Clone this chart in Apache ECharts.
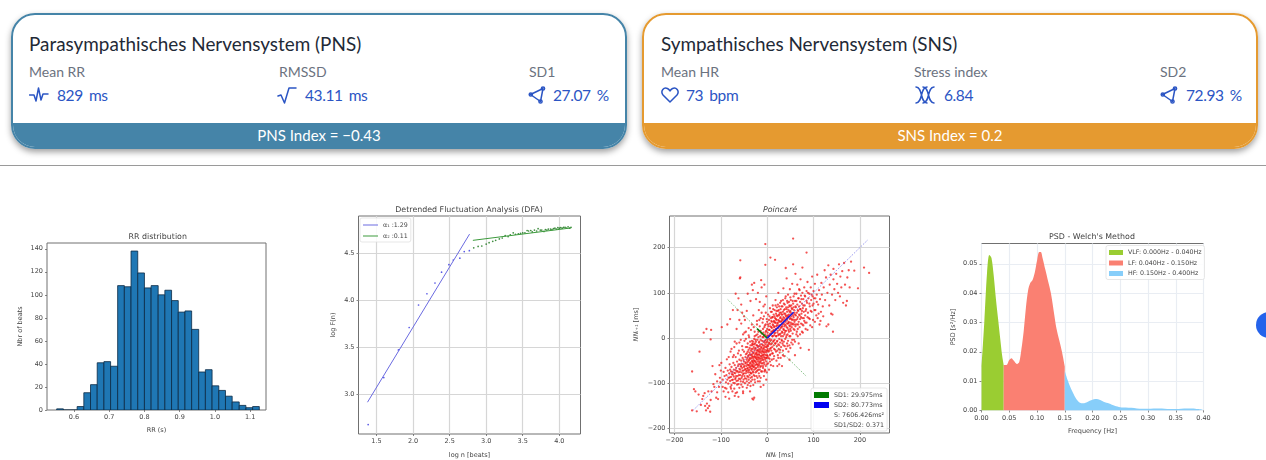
<!DOCTYPE html>
<html>
<head>
<meta charset="utf-8">
<title>HRV</title>
<script src="https://cdn.jsdelivr.net/npm/echarts@6/dist/echarts.min.js"></script>
<style>
  html, body { margin: 0; padding: 0; background: #fff; width: 1266px; height: 460px; overflow: hidden; font-family: Lato, "Noto Sans", sans-serif; }
  .card { position: absolute; top: 13px; width: 612px; height: 132px; border: 2px solid; border-radius: 24px; overflow: hidden; background: #fff; }
  .shadow { position: absolute; top: 13px; width: 616px; height: 136px; border-radius: 24px; box-shadow: 0 3px 6px rgba(0,0,0,.38); }
  .band { position: absolute; left: 0; right: 0; bottom: 0; height: 24px; line-height: 24px; text-align: center; color: #fff; font-size: 15px; }
  .txt { position: absolute; white-space: pre; }
  .head { top: 31px; font-size: 18.9px; line-height: 26px; color: #1f2a37; }
  .lab { top: 64px; font-size: 14px; line-height: 16px; color: #6b7280; }
  .val { top: 85px; font-size: 15.5px; line-height: 20px; color: #2b55c4; letter-spacing: -.4px; word-spacing: -.5px; }
  svg.ic { position: absolute; top: 85px; width: 20px; height: 20px; fill: none; stroke: #2b55c4; stroke-width: 1.5; stroke-linecap: round; stroke-linejoin: round; }
  #rule { position: absolute; left: 0; top: 165px; width: 1266px; height: 1px; background: #9a9a9a; }
  #dot { position: absolute; left: 1256px; top: 312px; width: 26px; height: 26px; border-radius: 50%; background: #2563eb; }
  #main { position: absolute; left: 0; top: 0; width: 1266px; height: 460px; filter: blur(0.35px); }
</style>
</head>
<body>
<div class="shadow" style="left:11px"></div>
<div class="shadow" style="left:642px"></div>
<div class="card" style="left:11px;border-color:#4584a8"><div class="band" style="background:#4584a8">PNS Index = −0.43</div></div>
<div class="card" style="left:642px;border-color:#e59a30"><div class="band" style="background:#e59a30">SNS Index = 0.2</div></div>

<div class="txt head" style="left:29px">Parasympathisches Nervensystem (PNS)</div>
<div class="txt lab" style="left:29px">Mean RR</div>
<div class="txt lab" style="left:279px">RMSSD</div>
<div class="txt lab" style="left:529px">SD1</div>
<svg class="ic" style="left:29px" viewBox="0 0 20 20"><path d="M0.5 10H5L7 16L9.5 3L12 15L14 9H19"/></svg>
<svg class="ic" style="left:277px" viewBox="0 0 20 20"><path d="M1 11L4 10L7.5 18L12 3H19"/></svg>
<svg class="ic" style="left:528px" viewBox="0 0 20 20"><path d="M2.5 9.5L15 3.5L12.5 16.5Z"/><circle cx="2.8" cy="9.5" r="1.6"/><circle cx="15" cy="3.5" r="1.6"/><circle cx="12.5" cy="16.5" r="1.6"/></svg>
<div class="txt val" style="left:57px">829  ms</div>
<div class="txt val" style="left:305px">43.11  ms</div>
<div class="txt val" style="left:553px">27.07  %</div>

<div class="txt head" style="left:661px">Sympathisches Nervensystem (SNS)</div>
<div class="txt lab" style="left:661px">Mean HR</div>
<div class="txt lab" style="left:914px">Stress index</div>
<div class="txt lab" style="left:1160px">SD2</div>
<svg class="ic" style="left:660px" viewBox="0 0 20 20"><path d="M10 17L3 10C0 6 4 1.500 7.500 3.500C8.800 4.200 9.500 5 10 6C10.500 5 11.200 4.200 12.500 3.500C16 1.500 20 6 17 10Z"/></svg>
<svg class="ic" style="left:915px" viewBox="0 0 20 20"><path d="M1 2C8 2 5 18 12 18M12 2C5 2 8 18 1 18M8 2C15 2 12 18 19 18M19 2C12 2 15 18 8 18"/></svg>
<svg class="ic" style="left:1160px" viewBox="0 0 20 20"><path d="M2.500 9.500L15 3.500L12.500 16.500Z"/><circle cx="2.800" cy="9.500" r="1.600"/><circle cx="15" cy="3.500" r="1.600"/><circle cx="12.500" cy="16.500" r="1.600"/></svg>
<div class="txt val" style="left:686px">73  bpm</div>
<div class="txt val" style="left:944px">6.84</div>
<div class="txt val" style="left:1186px">72.93  %</div>

<div id="rule"></div>
<div id="dot"></div>
<div id="main"></div>

<script>
// RR distribution
const rrBinEdges = [0.551,0.570,0.589,0.609,0.628,0.647,0.666,0.685,0.704,0.724,0.743,0.762,0.781,0.800,0.819,0.839,0.858,0.877,0.896,0.915,0.934,0.954,0.973,0.992,1.011,1.030,1.049,1.069,1.088,1.107,1.126]
const rrCounts = [1,0,0,3,15,22,41,42,38,108,107,138,119,106,108,100,104,95,85,86,70,33,35,21,17,12,7,4,2,3]
const rrXTicks = [0.6,0.7,0.8,0.9,1.0,1.1]
const rrYTicks = [0,20,40,60,80,100,120,140]

// DFA
const dfaShortPoints = [[1.386,2.674],[1.60,3.175],[1.80,3.47],[1.947,3.71],[2.075,3.95],[2.19,4.07],[2.30,4.185],[2.39,4.30],[2.49,4.38],[2.55,4.43],[2.64,4.45],[2.70,4.52],[2.77,4.53]]
const dfaLongPoints = [[2.83,4.56],[2.89,4.575],[2.94,4.58],[3.0,4.60],[3.04,4.615],[3.09,4.63],[3.13,4.64],[3.18,4.655],[3.22,4.665],[3.26,4.69],[3.30,4.68],[3.33,4.70],[3.37,4.72],[3.40,4.705],[3.44,4.71],[3.47,4.715],[3.50,4.72],[3.53,4.72],[3.56,4.745],[3.58,4.74],[3.61,4.745],[3.63,4.73],[3.66,4.75],[3.69,4.74],[3.71,4.765],[3.74,4.75],[3.76,4.75],[3.79,4.735],[3.81,4.755],[3.83,4.75],[3.85,4.76],[3.88,4.76],[3.90,4.755],[3.92,4.765],[3.94,4.77],[3.96,4.76],[3.98,4.775],[4.0,4.77],[4.02,4.775],[4.04,4.77],[4.06,4.78],[4.08,4.78],[4.10,4.77],[4.12,4.785],[4.14,4.77],[4.16,4.78]]
const dfaShortFit = [[1.377,2.912],[2.773,4.707]]
const dfaLongFit = [[2.818,4.64],[4.164,4.773]]
const dfaXTicks = [1.5,2.0,2.5,3.0,3.5,4.0]
const dfaYTicks = [3.0,3.5,4.0,4.5]

// Poincare
const poincarePoints = [
[-162,-74],[-162,-160],[-158,-113],[-155,-118],[-152,-162],[-148,-125],[-146,-30],[-143,-148],[-140,-135],[-138,-128],[-135,-122],[-134,-150],[-132,-160],[-130,-145],[-128,-155],[-127,-118],[-125,-150],[-123,-163],[-122,-137],[-120,-118],[-118,-62],[-116,-102],[-114,-108],[-112,-80],[-110,-132],[-108,-120],[-106,-135],[-104,-108],[-103,-60],[-101,-98],[-100,-72],[-131,20],[-137,12],[-121,18],[-122,-3],[-98,24],[-99,-55],[-96,-92],[-94,-75],
[-92,-84],[-91,-110],[-90,-66],[-89,-98],[-88,-82],[-87,-47],[-86,-92],[-85,-72],[-84,-120],[-83,-88],[-82,-78],[-81,-58],[-80,-95],[-80,-70],[-79,-30],[-78,-86],[-77,-104],[-77,-64],[-76,-80],[-75,-75],[-75,-118],[-74,-92],[-73,-55],[-72,-70],[-72,-85],[-71,-20],[-70,-100],[-70,-60],[-69,-78],[-68,-88],[-68,-42],[-67,-66],[-66,-95],[-66,-74],[-65,-52],[-65,-120],[-64,-84],[-63,-62],[-63,-34],[-62,-76],[-62,-102],[-61,-90],[-60,-68],[-60,-48],[-60,-10],[-59,132],[-58,172],[-58,134],[-62,88],[-68,98],[-74,62],[-80,42],[-86,30],[-64,62],[-56,74],
[-59,-58],[-58,-82],[-58,-70],[-57,-96],[-57,-38],[-56,-62],[-56,-50],[-55,-88],[-55,-76],[-54,-18],[-54,-66],[-53,-108],[-53,-44],[-52,-80],[-52,-58],[-51,-92],[-51,-72],[-50,-30],[-50,-52],[-50,-64],[-49,-84],[-49,-6],[-48,-70],[-48,-100],[-47,-42],[-47,-56],[-46,-78],[-46,-20],[-45,-62],[-45,-90],[-44,-48],[-44,-72],[-44,-34],[-43,-84],[-43,-58],[-42,-12],[-42,-66],[-42,-104],[-41,-40],[-41,-76],[-40,-50],[-40,-92],[-40,-26],[-39,-60],[-39,-70],[-39,2],[-38,-44],[-38,-82],[-38,-32],[-37,-56],[-37,-118],[-36,-66],[-36,-16],[-36,-46],[-35,-78],[-35,-38],[-35,-96],[-34,-58],[-34,-24],[-34,-70],[-33,-6],[-33,-50],[-33,-86],[-32,-40],[-32,-62],[-32,-30],[-31,-74],[-31,-14],[-31,-54],[-30,-104],[-30,-46],[-30,-34],[-30,-64],[-29,-20],[-29,-82],[-29,-56],[-28,-2],[-28,-42],[-28,-70],[-27,-28],[-27,-92],[-27,-50],[-26,-60],[-26,-36],[-26,-12],[-25,-76],[-25,-44],[-25,-22],[-24,-54],[-24,-66],[-24,6],[-23,-32],[-23,-84],[-23,-46],[-22,-16],[-22,-58],[-22,-38],[-21,-72],[-21,-26],[-21,-4],[-20,-52],[-20,-96],[-20,-42],[-20,-64],[-19,-30],[-19,14],[-19,-18],[-18,-78],[-18,-48],[-18,-36],[-17,-60],[-17,-8],[-17,-24],[-16,-44],[-16,-70],[-16,-32],[-15,-54],[-15,4],[-15,-14],[-14,-88],[-14,-40],[-14,-26],[-13,-62],[-13,-50],[-12,-20],[-12,-34],[-12,10],[-11,-74],[-11,-44],[-11,-6],[-10,-56],[-10,-28],[-10,-38],[-9,-66],[-9,-16],[-9,20],[-8,-48],[-8,2],[-8,-30],[-7,-84],[-7,-42],[-7,-22],[-6,-58],[-6,-10],[-6,-36],[-5,-70],[-5,28],[-5,-26],[-4,-48],[-4,-14],[-4,8],[-3,-62],[-3,-38],[-3,-4],[-2,-32],[-2,-52],[-2,16],[-1,-20],[-1,-76],[-1,-44],[0,-28],[0,-8],[0,36],
[-48,40],[-44,60],[-40,22],[-36,82],[-33,30],[-30,50],[-27,14],[-24,86],[-22,38],[-18,62],[-16,26],[-14,44],[-12,112],[-10,34],[-8,70],[-7,48],[-6,118],[-4,162],[-4,208],[-3,56],[-2,92],[-1,42],[-28,122],[-20,100],[-33,118],[-42,98],[-50,48],[-56,32],[-46,14],[-52,8],[-31,106],[-16,80],[-13,128],
[1,-40],[1,12],[2,-56],[2,-18],[2,52],[3,-30],[3,4],[3,26],[4,-70],[4,-10],[4,40],[5,-46],[5,18],[5,-2],[6,-24],[6,66],[6,32],[7,-36],[7,178],[7,10],[8,-60],[8,44],[8,-14],[9,24],[9,-4],[9,-28],[10,58],[10,36],[10,-48],[11,14],[11,-20],[11,4],[12,72],[12,46],[12,-34],[13,28],[13,-8],[13,-62],[14,52],[14,18],[14,-16],[15,38],[15,6],[15,-40],[16,62],[16,26],[16,-4],[17,173],[17,44],[17,12],[17,-26],[18,84],[18,34],[18,-12],[19,54],[19,20],[19,-30],[20,40],[20,4],[20,-50],[21,68],[21,28],[21,-18],[22,48],[22,12],[22,-6],[23,60],[23,34],[23,-38],[24,22],[24,-14],[24,100],[25,50],[25,8],[25,-24],[26,38],[26,70],[26,-2],[27,18],[27,-32],[27,56],[28,44],[28,28],[28,-10],[29,64],[29,10],[29,-44],[30,36],[30,-20],[30,82],[31,52],[31,24],[31,-4],[32,42],[32,14],[32,-62],[33,70],[33,30],[33,-12],[34,58],[34,4],[34,-28],[35,46],[35,20],[35,110],[36,76],[36,36],[36,-8],[37,54],[37,26],[37,-40],[38,64],[38,12],[38,-18],[39,40],[39,88],[39,-2],[40,155],[40,50],[40,28],[41,68],[41,16],[41,-24],[42,44],[42,6],[42,132],[43,58],[43,32],[43,-12],[44,78],[44,22],[45,48],[45,-6],[45,96],[46,36],[46,62],[46,-30],[47,14],[47,52],[48,72],[48,28],[48,-16],[49,42],[49,108],[50,60],[50,4],[50,20],[51,34],[51,84],[52,48],[52,-10],[53,66],[53,24],[54,40],[54,120],[55,54],[55,10],[56,220],[56,163],[56,76],[56,30],[57,46],[57,92],[58,62],[58,-4],[59,18],[59,36],[60,82],[60,52],[61,142],[61,26],[62,68],[62,40],[63,98],[63,8],[64,56],[64,30],[65,74],[65,118],[66,46],[66,20],[67,88],[67,60],[68,36],[68,-12],[69,108],[69,70],[70,50],[70,24],[71,80],[71,42],[72,64],[72,130],[73,94],[73,32],[74,54],[75,76],[75,14],[76,156],[76,100],[76,44],[77,66],[78,86],[78,28],[79,58],[80,112],[80,38],[81,72],[82,92],[82,50],[83,20],[84,64],[85,189],[85,104],[85,34],[86,78],[87,124],[88,56],[89,88],[90,44],[91,98],[92,70],[93,28],[94,112],[95,84],[96,58],[97,136],[98,92],[99,40],[100,76],[100,104],[102,62],[103,120],[104,88],[106,50],[107,96],[108,140],[110,74],[112,106],[113,30],[114,86],[116,58],[117,122],[118,96],[120,70],[122,112],[124,150],[125,84],[127,134],[128,26],[130,100],[132,161],[132,30],[134,72],[135,118],[137,140],[138,54],[140,96],[141,52],[143,153],[143,130],[145,108],[147,84],[149,142],[151,120],[153,100],[155,163],[157,92],[158,136],[160,112],[162,148],[164,78],[166,166],[168,118],[170,72],[172,82],[173,134],[176,150],[181,169],[178,112],[188,149],[209,156],[220,144],[196,110],[142,14],[90,-26],[72,-22],[60,-38],[48,-48],[26,-58],[22,-62],[-8,-104],[-28,-132],[-32,-134],[-30,-136],[-14,-108],[-2,-92],[-62,-130],[-68,-122],[-52,-118],[-82,-134],[-90,-130],[-94,-118],[-78,-112],
[-84,-101],[-81,-87],[-79,-108],[-78,-74],[-76,-93],[-74,-81],[-73,-99],[-71,-77],[-71,-112],[-69,-91],[-68,-71],[-67,-84],[-65,-103],[-64,-73],[-63,-94],[-62,-58],[-61,-82],[-60,-110],[-59,-75],[-58,-91],[-57,-63],[-56,-103],[-55,-57],[-54,-84],[-53,-72],[-52,-97],[-51,-48],[-50,-78],[-49,-61],[-48,-89],[-47,-68],[-46,-36],[-46,-54],[-45,-74],[-44,-96],[-43,-44],[-43,-68],[-42,-30],[-42,-53],[-41,-86],[-41,-60],[-40,-38],[-40,-72],[-39,-48],[-39,-99],[-38,-22],[-38,-64],[-37,-76],[-37,-36],[-36,-54],[-36,-88],[-35,-28],[-35,-62],[-34,-44],[-34,-78],[-33,-16],[-33,-68],[-33,-36],[-32,-52],[-32,-92],[-31,-24],[-31,-60],[-31,-42],[-30,-8],[-30,-76],[-29,-50],[-29,-32],[-28,-64],[-28,-14],[-27,-84],[-27,-40],[-26,-24],[-26,-52],[-25,-68],[-25,-4],[-24,-34],[-24,-42],[-23,-58],[-23,-74],[-23,-16],[-22,-28],[-22,-48],[-21,-88],[-21,-36],[-21,8],[-20,-20],[-20,-60],[-19,-44],[-19,-70],[-18,-10],[-18,-28],[-18,-56],[-17,-38],[-17,-84],[-16,-18],[-16,-52],[-15,-30],[-15,-64],[-14,-4],[-14,-46],[-13,-22],[-13,-74],[-12,-40],[-12,-56],[-11,-14],[-11,-30],[-10,2],[-10,-48],[-9,-24],[-9,-62],[-8,-38],[-8,12],[-8,-8],[-7,-54],[-7,-32],[-6,-18],[-6,24],[-5,-44],[-5,-6],[-4,-30],[-4,-72],[-3,-20],[-3,14],[-2,-44],[-2,-10],[-1,-58],[-1,-28],[-1,4],[0,-38],[0,-16],[0,20],
[1,-24],[1,-4],[2,30],[2,6],[3,-44],[3,-14],[4,18],[4,-28],[5,48],[5,-12],[6,8],[6,-38],[7,26],[7,-6],[8,58],[8,-22],[9,38],[9,14],[10,-12],[10,22],[11,46],[11,-34],[12,4],[12,30],[13,64],[13,16],[14,-6],[14,36],[15,24],[15,-24],[16,48],[16,10],[17,-12],[17,34],[18,72],[18,18],[19,4],[19,42],[20,26],[20,60],[21,-8],[21,50],[22,32],[22,-28],[23,16],[23,74],[24,40],[24,6],[25,62],[25,28],[26,-16],[26,52],[27,36],[27,8],[28,78],[28,-26],[29,22],[29,46],[30,56],[30,4],[31,38],[31,70],[32,26],[32,-6],[33,52],[33,12],[34,40],[34,84],[35,32],[35,-16],[36,62],[36,18],[37,44],[37,8],[38,74],[38,30],[39,54],[39,16],[40,36],[40,92],[41,48],[41,2],[42,64],[42,24],[43,40],[43,82],[44,50],[44,8],[45,32],[45,68],[46,18],[46,46],[47,80],[47,34],[48,58],[48,4],[49,26],[49,70],[50,44],[50,90],[51,56],[51,16],[52,30],[52,72],[53,42],[54,64],[54,-4],[55,82],[55,32],[56,50],[57,20],[57,68],[58,40],[59,98],[59,56],[60,30],[61,70],[62,50],[63,82],[64,14],[65,42],[66,62],[67,30],[68,88],[69,52],[70,106],[71,64],[73,46],[74,86],[75,60],[76,30],[78,72],[79,44],[81,94],[83,60],[85,82],[87,46],[88,100],[91,76],[94,60],[96,96],[98,72],[101,88],[104,62],[107,80],[111,54],
[-83,-42],[-77,-24],[-72,-38],[-66,-12],[-61,-28],[-57,-4],[-53,-26],[-49,12],[-46,-2],[-43,-20],[-40,6],[-37,-8],[-35,18],[-32,-12],[-29,24],[-27,4],[-24,-8],[-22,30],[-19,2],[-17,40],[-14,16],[-12,56],[-9,42],[-7,6],[-5,74],[-3,30],[44,-18],[50,-22],[55,-14],[60,-8],[66,4],[71,8],[77,12],[82,34],[87,18],[92,42],[97,24],[103,36],[109,44],[115,38],[121,48],[-52,-122],[-44,-110],[-36,-106],[-26,-98],[-16,-96],[-6,-74],[6,-52],[14,-46],[24,-44],[34,-38],[-70,-128],[-88,-112],[-96,-108],[-102,-88],[-108,-96],[-74,-42],[-70,-8],[-66,20],[-60,40],[-54,56]
]
const poincareIdentity = [[-160,-160],[218,218]]
const poincareCross = [[-85,85],[85,-85]]
const sd1Segment = [[0,0],[-22,21]]
const sd2Segment = [[0,0],[57,57]]
const poincareXTicks = [-200,-100,0,100,200]
const poincareYTicks = [-200,-100,0,100,200]

// PSD
const vlfCurve = [[0,0.015],[0.005,0.030],[0.010,0.047],[0.014,0.053],[0.018,0.052],[0.022,0.046],[0.026,0.038],[0.030,0.031],[0.034,0.024],[0.037,0.019],[0.040,0.0155]]
const lfCurve = [[0.040,0.0155],[0.045,0.0155],[0.050,0.0172],[0.054,0.0178],[0.058,0.0170],[0.064,0.0158],[0.068,0.0165],[0.072,0.021],[0.076,0.027],[0.080,0.035],[0.084,0.041],[0.088,0.0435],[0.092,0.0445],[0.096,0.047],[0.100,0.051],[0.104,0.054],[0.107,0.054],[0.110,0.052],[0.115,0.048],[0.120,0.044],[0.125,0.040],[0.130,0.034],[0.135,0.028],[0.140,0.024],[0.145,0.020],[0.150,0.015]]
const hfCurve = [[0.150,0.0135],[0.155,0.0105],[0.160,0.008],[0.165,0.006],[0.170,0.0042],[0.175,0.003],[0.180,0.0025],[0.185,0.0025],[0.190,0.0028],[0.195,0.0033],[0.200,0.0037],[0.205,0.0039],[0.210,0.0038],[0.215,0.0035],[0.220,0.003],[0.230,0.0024],[0.240,0.0016],[0.250,0.0011],[0.260,0.001],[0.270,0.0009],[0.280,0.0007],[0.290,0.0006],[0.300,0.0006],[0.310,0.0007],[0.320,0.0007],[0.330,0.0006],[0.340,0.0005],[0.350,0.0005],[0.360,0.0006],[0.370,0.0007],[0.380,0.0007],[0.390,0.0005],[0.400,0.0003]]
const psdXTicks = [0,0.05,0.10,0.15,0.20,0.25,0.30,0.35,0.40]
const psdYTicks = [0,0.01,0.02,0.03,0.04,0.05]

const chart = echarts.init(document.getElementById('main'), null, { renderer: 'canvas' })
const font = 'DejaVu Sans'
const tickCol = '#555'

function plotTitle(text, x, y, italic) {
  return { text, left: x, top: y, textAlign: 'center', textVerticalAlign: 'middle', padding: 0,
    textStyle: { fontFamily: font, fontSize: 7.9, fontWeight: 'normal', fontStyle: italic ? 'italic' : 'normal', color: '#444' } }
}

function makeAxis(index, type, min, max, ticks, name, gap, grid, fmt, rich) {
  return {
    gridIndex: index, type: 'value', min, max, name, nameLocation: 'middle', nameGap: gap,
    nameTextStyle: { fontFamily: font, fontSize: 6.5, color: '#444', rich: rich || {} },
    axisLine: { show: false, onZero: false },
    axisTick: { show: true, length: 2, customValues: ticks, lineStyle: { color: tickCol, width: 0.7 } },
    axisLabel: { show: true, customValues: ticks, formatter: fmt, margin: 4, fontFamily: font, fontSize: 6.5, color: '#444', hideOverlap: false, showMinLabel: true, showMaxLabel: true },
    splitLine: { show: !!grid, lineStyle: { color: grid || '#ccc', width: 1.2 } }
  }
}

const minus = v => String(v).replace('-', '−')
const italicMs = { i: { fontFamily: font, fontSize: 6.5, fontStyle: 'italic', color: '#444' }, n: { fontFamily: font, fontSize: 6.5, color: '#444' } }
const frame = { show: true, borderColor: '#707070', borderWidth: 1, backgroundColor: 'transparent' }
const legendBase = { orient: 'vertical', selectedMode: false, icon: 'rect', padding: [4, 3, 3, 3], backgroundColor: 'rgba(255,255,255,.85)', borderColor: '#ddd', borderWidth: 0.7, borderRadius: 2, textStyle: { fontFamily: font, fontSize: 6.3, color: '#444' } }

const option = {
  animation: false,
  title: [
    plotTitle('RR distribution', 157.7, 237.3),
    plotTitle('Detrended Fluctuation Analysis (DFA)', 469, 209.7),
    plotTitle('Poincaré', 780, 209.7, true),
    plotTitle("PSD - Welch's Method", 1092, 237.3)
  ],
  grid: [
    { left: 47, top: 243, width: 219, height: 167, ...frame },
    { left: 358.5, top: 216, width: 222, height: 221, ...frame },
    { left: 669.5, top: 216, width: 220, height: 221, ...frame },
    { left: 981.5, top: 243.5, width: 222, height: 167, ...frame }
  ],
  xAxis: [
    makeAxis(0, 'x', 0.5235, 1.145, rrXTicks, 'RR (s)', 17, null, v => v.toFixed(1)),
    makeAxis(1, 'x', 1.254, 4.29, dfaXTicks, 'log n [beats]', 18, '#d6d6d6', v => v.toFixed(1)),
    makeAxis(2, 'x', -210.8, 264, poincareXTicks, '{i|NNᵢ}{n| [ms]}', 19, '#d6d6d6', minus, italicMs),
    makeAxis(3, 'x', 0, 0.4, psdXTicks, 'Frequency [Hz]', 17, '#e9edf3', v => v.toFixed(2))
  ],
  yAxis: [
    makeAxis(0, 'y', 0, 145, rrYTicks, 'Nbr of beats', 23, null, v => v),
    makeAxis(1, 'y', 2.573, 4.9, dfaYTicks, 'log F(n)', 22, '#d6d6d6', v => v.toFixed(1)),
    makeAxis(2, 'y', -210, 270, poincareYTicks, '{i|NNᵢ₊₁}{n| [ms]}', 30, '#d6d6d6', minus, italicMs),
    makeAxis(3, 'y', 0, 0.0569, psdYTicks, 'PSD [s²/Hz]', 25, '#e9edf3', v => v.toFixed(2))
  ],
  legend: [
    { ...legendBase, data: ['α₁ :1.29', 'α₂ :0.11'], left: 360, top: 218, itemWidth: 15, itemHeight: 1, itemGap: 5 },
    { ...legendBase, data: ['SD1: 29.975ms', 'SD2: 80.773ms', 'S: 7606.426ms²', 'SD1/SD2: 0.371'], left: 811, top: 388, itemWidth: 15, itemHeight: 6, itemGap: 4 },
    { ...legendBase, data: ['VLF: 0.000Hz - 0.040Hz', 'LF: 0.040Hz - 0.150Hz', 'HF: 0.150Hz - 0.400Hz'], left: 1106, top: 245.5, itemWidth: 14, itemHeight: 5, itemGap: 4.5 }
  ],
  series: [
    {
      type: 'custom', xAxisIndex: 0, yAxisIndex: 0, clip: true,
      data: rrCounts.map((c, i) => [rrBinEdges[i], rrBinEdges[i + 1], c]),
      encode: { x: [0, 1], y: 2 },
      renderItem: (params, api) => {
        const a = api.coord([api.value(0), api.value(2)])
        const b = api.coord([api.value(1), 0])
        return { type: 'rect', shape: { x: a[0], y: a[1], width: b[0] - a[0], height: b[1] - a[1] },
          style: { fill: '#1f77b4', stroke: '#0b2a44', lineWidth: 0.8 } }
      }
    },
    { type: 'scatter', xAxisIndex: 1, yAxisIndex: 1, data: dfaShortPoints, symbolSize: 1.7, itemStyle: { color: '#3030e0' }, silent: true },
    { type: 'scatter', xAxisIndex: 1, yAxisIndex: 1, data: dfaLongPoints, symbolSize: 1.7, itemStyle: { color: '#107010' }, silent: true },
    { name: 'α₁ :1.29', type: 'line', xAxisIndex: 1, yAxisIndex: 1, data: dfaShortFit, showSymbol: false, symbol: 'none', itemStyle: { color: '#6a6ae0' }, lineStyle: { color: '#6a6ae0', width: 1 } },
    { name: 'α₂ :0.11', type: 'line', xAxisIndex: 1, yAxisIndex: 1, data: dfaLongFit, showSymbol: false, symbol: 'none', itemStyle: { color: '#3c9a3c' }, lineStyle: { color: '#3c9a3c', width: 1 } },

    { type: 'scatter', xAxisIndex: 2, yAxisIndex: 2, data: poincarePoints, symbolSize: 2.3, itemStyle: { color: '#f01010', opacity: 0.72 }, silent: true },
    { type: 'line', xAxisIndex: 2, yAxisIndex: 2, data: poincareIdentity, symbol: 'none', lineStyle: { color: '#5a5ae6', width: 0.8, type: [1, 1.5] } },
    { type: 'line', xAxisIndex: 2, yAxisIndex: 2, data: poincareCross, symbol: 'none', lineStyle: { color: '#3c9a3c', width: 0.8, type: [1, 1.5] } },
    { name: 'SD1: 29.975ms', type: 'line', xAxisIndex: 2, yAxisIndex: 2, data: sd1Segment, symbol: 'none', z: 5, itemStyle: { color: '#007a00' }, lineStyle: { color: '#0a7a0a', width: 1.6 } },
    { name: 'SD2: 80.773ms', type: 'line', xAxisIndex: 2, yAxisIndex: 2, data: sd2Segment, symbol: 'none', z: 5, itemStyle: { color: '#0000f0' }, lineStyle: { color: '#1a1ae0', width: 1.6 } },
    { name: 'S: 7606.426ms²', type: 'line', xAxisIndex: 2, yAxisIndex: 2, data: [], symbol: 'none', itemStyle: { color: 'rgba(0,0,0,0)' }, lineStyle: { width: 0 } },
    { name: 'SD1/SD2: 0.371', type: 'line', xAxisIndex: 2, yAxisIndex: 2, data: [], symbol: 'none', itemStyle: { color: 'rgba(0,0,0,0)' }, lineStyle: { width: 0 } },

    { name: 'VLF: 0.000Hz - 0.040Hz', type: 'line', xAxisIndex: 3, yAxisIndex: 3, data: vlfCurve, smooth: 0.3, symbol: 'none', itemStyle: { color: '#9acd32' }, lineStyle: { width: 0 }, areaStyle: { color: '#9acd32', opacity: 1 } },
    { name: 'LF: 0.040Hz - 0.150Hz', type: 'line', xAxisIndex: 3, yAxisIndex: 3, data: lfCurve, smooth: 0.3, symbol: 'none', itemStyle: { color: '#fa8072' }, lineStyle: { width: 0 }, areaStyle: { color: '#fa8072', opacity: 1 } },
    { name: 'HF: 0.150Hz - 0.400Hz', type: 'line', xAxisIndex: 3, yAxisIndex: 3, data: hfCurve, smooth: 0.3, symbol: 'none', itemStyle: { color: '#87cefa' }, lineStyle: { width: 0 }, areaStyle: { color: '#87cefa', opacity: 1 } }
  ]
}
chart.setOption(option)
</script>
</body>
</html>
